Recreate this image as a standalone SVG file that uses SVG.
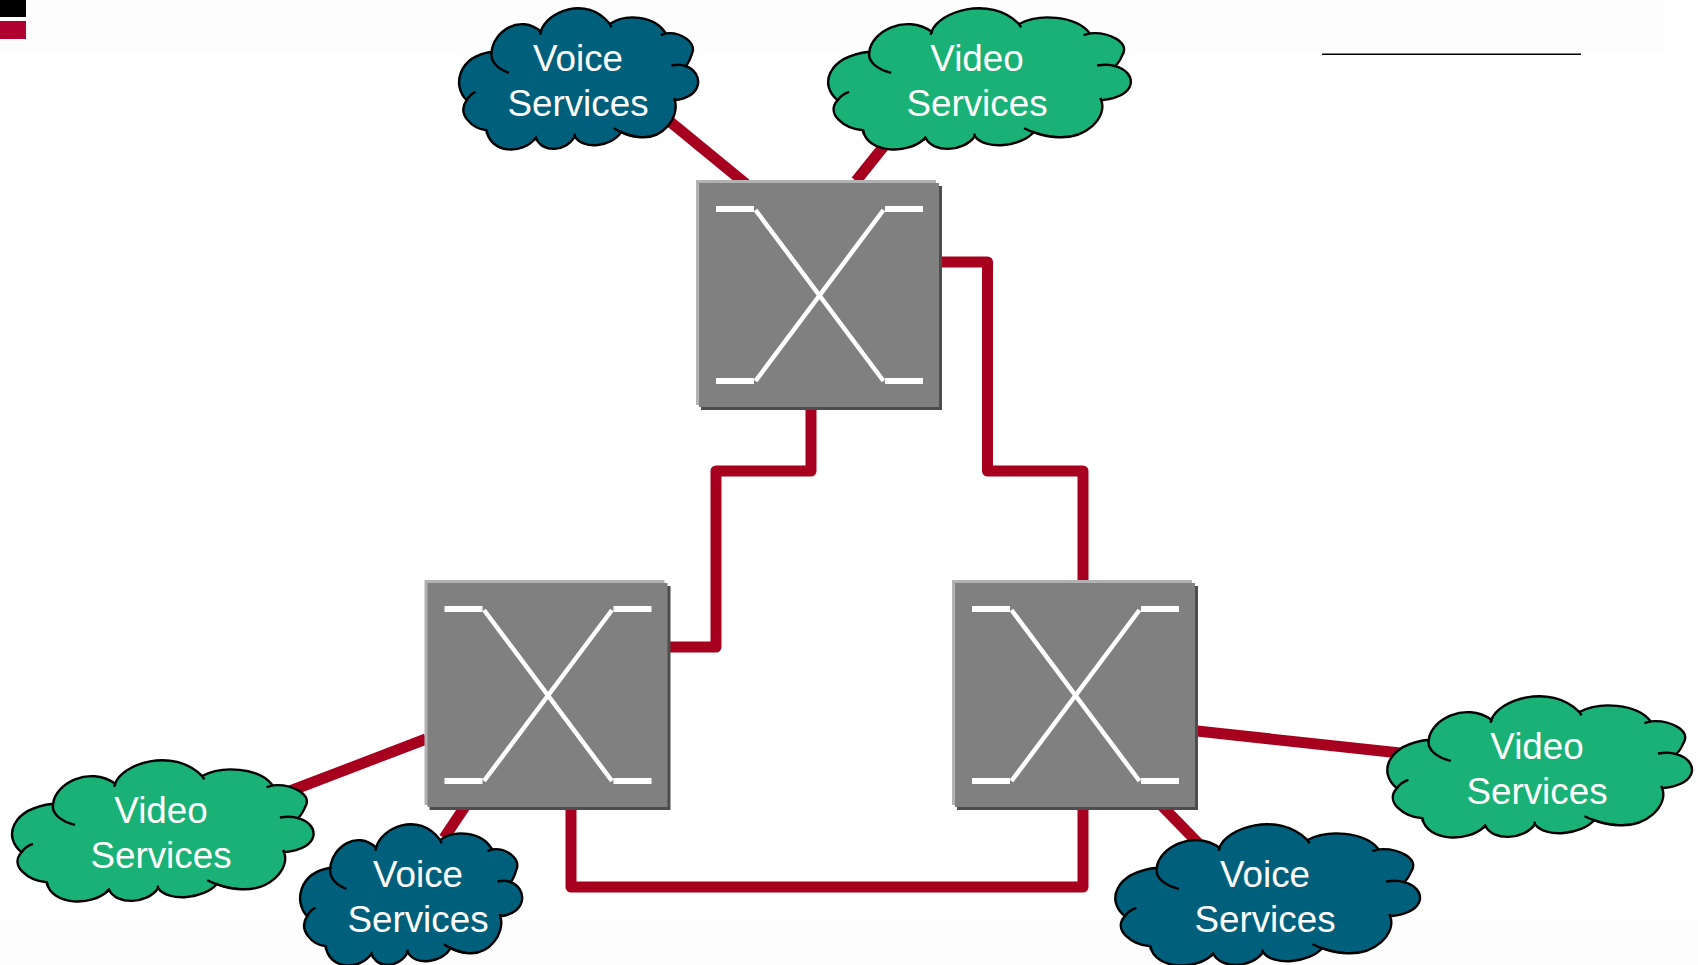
<svg xmlns="http://www.w3.org/2000/svg" width="1698" height="965" viewBox="0 0 1698 965">
<style>
.link{fill:none;stroke:#a6001e;stroke-width:11;stroke-linejoin:round}
.cp{stroke:#000;stroke-width:2.4;vector-effect:non-scaling-stroke}
.hook{fill:none;stroke:#000;stroke-width:2.4;vector-effect:non-scaling-stroke}
.voice{fill:#00607c}
.video{fill:#1ab176}
.t{font-family:"Liberation Sans",Arial,sans-serif;font-size:36.8px;fill:#fff;text-anchor:middle}
.bar{fill:#fff}
.x{fill:none;stroke:#fff;stroke-width:4.500}
</style>
<defs>
<g id="cloudHooks">
<path class="hook" d="M155,155C150,185 175,208 207,218M303,95L300,104M510,72L515,82M678,100L663,105M738,198C725,192 710,193 695,196M705,300L703,293M595,410C570,406 540,396 522,384M405,408L404,400M288,412L283,420M140,390L141,400M80,300C85,290 95,280 107,275"/>
</g>
<path id="cloudShape" class="cp" d="M155,155C160,95 240,40 303,95C318,36 440,-17 510,72C555,40 645,45 678,100C720,95 775,125 755,165C750,180 745,190 738,198C790,215 795,290 705,300C720,350 670,420 595,410C575,408 555,402 545,395C515,440 430,450 405,408C380,455 305,460 288,412C250,465 150,460 140,390C95,385 50,340 80,300C35,255 55,170 155,155Z"/>
<g id="switch">
<rect x="696" y="180" width="240" height="225" fill="#b2b2b2"/>
<rect x="701" y="186" width="241" height="224" fill="#4d4d4d"/>
<rect x="699" y="183" width="240" height="224" fill="#808080"/>
<rect class="bar" x="716" y="206" width="38" height="6"/>
<rect class="bar" x="885" y="206" width="38" height="6"/>
<rect class="bar" x="716" y="378" width="38" height="6"/>
<rect class="bar" x="885" y="378" width="38" height="6"/>
<path class="x" d="M755.5,210L883.5,381M883.5,210L755.5,381"/>
</g>
</defs>
<rect width="1698" height="965" fill="#fff"/>
<rect width="1665" height="54" fill="#fdfdfd"/>
<rect y="920" width="1698" height="45" fill="#fdfdfd"/>
<g id="header">
<rect x="0" y="0" width="26" height="17" fill="#000"/>
<rect x="0" y="21" width="26" height="18" fill="#b0002f"/>
<path d="M1322,54.300H1581" stroke="#000" stroke-width="1.600" fill="none"/>
</g>
<g id="connectors">
<path class="link" d="M811,405V471H716V647H668"/>
<path class="link" d="M940,262H987.500V471H1083V582"/>
<path class="link" d="M571,805V887H1083V805"/>
<path class="link" d="M668,120L746,184"/>
<path class="link" d="M884,146L856,181"/>
<path class="link" d="M290,791L426,739"/>
<path class="link" d="M444,838L466,805"/>
<path class="link" d="M1197,731L1400,753"/>
<path class="link" d="M1162,806L1204,849"/>
</g>
<g id="switch-top"><use href="#switch"/></g>
<g id="switch-left"><use href="#switch" transform="translate(-271.500,400)"/></g>
<g id="switch-right"><use href="#switch" transform="translate(256,400)"/></g>
<g id="cloud-voice-top">
<g transform="translate(440,0) scale(.333,.334)"><use href="#cloudShape" class="voice"/><use href="#cloudHooks"/></g>
<text class="t" x="578" y="71">Voice</text><text class="t" x="578" y="116">Services</text>
</g>
<g id="cloud-video-top">
<g transform="translate(804,0) scale(.4216,.334)"><use href="#cloudShape" class="video"/><use href="#cloudHooks"/></g>
<text class="t" x="977" y="71">Video</text><text class="t" x="977" y="116">Services</text>
</g>
<g id="cloud-video-left">
<g transform="translate(-12,752) scale(.42,.334)"><use href="#cloudShape" class="video"/><use href="#cloudHooks"/></g>
<text class="t" x="161" y="823">Video</text><text class="t" x="161" y="868">Services</text>
</g>
<g id="cloud-voice-left">
<g transform="translate(282.400,816) scale(.3093,.334)"><use href="#cloudShape" class="voice"/><use href="#cloudHooks"/></g>
<text class="t" x="418" y="887">Voice</text><text class="t" x="418" y="932">Services</text>
</g>
<g id="cloud-video-right">
<g transform="translate(1363,688) scale(.4244,.334)"><use href="#cloudShape" class="video"/><use href="#cloudHooks"/></g>
<text class="t" x="1537" y="759">Video</text><text class="t" x="1537" y="804">Services</text>
</g>
<g id="cloud-voice-right">
<g transform="translate(1091,816) scale(.4244,.334)"><use href="#cloudShape" class="voice"/><use href="#cloudHooks"/></g>
<text class="t" x="1265" y="887">Voice</text><text class="t" x="1265" y="932">Services</text>
</g>
</svg>
